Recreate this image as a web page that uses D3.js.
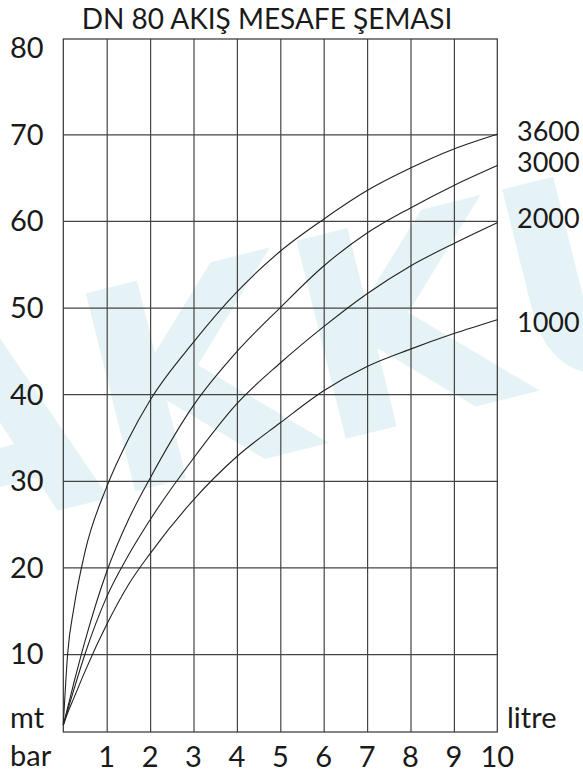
<!DOCTYPE html>
<html lang="tr">
<head>
    <meta charset="UTF-8">
    <title>DN 80 Akış Mesafe Şeması</title>
    <script src="https://cdnjs.cloudflare.com/ajax/libs/d3/7.8.5/d3.min.js"></script>
    <style>
        body { margin: 0; background: #fff; }
        svg { display: block; font-family: Lato, "Open Sans", sans-serif; }
        .grid line { stroke: #444; stroke-width: 1.2px; }
        .grid path { display: none; }
        .curve { fill: none; stroke: #222; stroke-width: 1.1px; }
        .lbl { font-size: 29px; fill: #1a1a1a; }
        .slbl { font-size: 27px; fill: #1a1a1a; }
    </style>
</head>
<body>
<svg width="583" height="776"></svg>
<script>
    // flow (x axis), pressure/distance curves per capacity
    const flowX = [0, 0.1, 0.25, 0.5, 1, 1.5, 2, 3, 4, 5, 6, 7, 8, 9, 10];
    const c3600 = [1.8, 10, 15.5, 21.8, 29.3, 34.8, 39.3, 46, 51.8, 56.5, 60.2, 63.5, 66.1, 68.3, 70];
    const c3000 = [1.8, 3.8, 6.8, 11.5, 19.5, 25.5, 30.3, 38.7, 44.9, 50, 54.8, 58.6, 61.5, 64.1, 66.4];
    const c2000 = [1.8, 3.5, 6, 10, 16.6, 21.4, 25.5, 32.6, 38.9, 43.6, 47.8, 51.6, 54.8, 57.4, 59.8];
    const c1000 = [1.8, 3.2, 5, 8, 13.4, 18, 21.6, 27.8, 32.8, 36.7, 40.4, 43.2, 45.2, 47, 48.6];
    const seriesNames = ["3600", "3000", "2000", "1000"];
    const xTicks = [1, 2, 3, 4, 5, 6, 7, 8, 9, 10];
    const yTicks = [10, 20, 30, 40, 50, 60, 70, 80];

    const svg = d3.select("svg");
    const pLeft = 63.3, pRight = 497.3, pTop = 39, pBottom = 732;

    const x = d3.scaleLinear().domain([0, 10]).range([pLeft, pRight]);
    const y = d3.scaleLinear().domain([1, 81]).range([pBottom, pTop]);

    // watermark
    svg.append("text")
        .attr("transform", "translate(-100,550) rotate(-14)")
        .attr("font-family", "DejaVu Sans")
        .attr("font-weight", "bold")
        .attr("font-size", 280)
        .attr("fill", "#e6f3f6")
        .text("AKKU");

    // grid
    svg.append("g").attr("class", "grid")
        .attr("transform", `translate(0,${pBottom})`)
        .call(d3.axisBottom(x).tickValues(d3.range(1, 10)).tickSize(-(pBottom - pTop)).tickFormat(""));
    svg.append("g").attr("class", "grid")
        .attr("transform", `translate(${pLeft},0)`)
        .call(d3.axisLeft(y).tickValues(yTicks.slice(0, -1)).tickSize(-(pRight - pLeft)).tickFormat(""));
    svg.append("rect")
        .attr("x", pLeft).attr("y", pTop)
        .attr("width", pRight - pLeft).attr("height", pBottom - pTop)
        .attr("fill", "none").attr("stroke", "#333").attr("stroke-width", 1.2);

    // curves
    const line = d3.line().x((d, i) => x(flowX[i])).y(d => y(d)).curve(d3.curveMonotoneX);
    const all = [c3600, c3000, c2000, c1000];
    svg.selectAll(".curve").data(all).enter().append("path")
        .attr("class", "curve").attr("d", line);

    // labels
    svg.selectAll(".ylbl").data(yTicks).enter().append("text")
        .attr("class", "lbl").attr("x", 10).attr("y", d => y(d))
        .attr("dy", "0.36em").text(d => d);
    svg.selectAll(".xlbl").data(xTicks).enter().append("text")
        .attr("class", "lbl").attr("text-anchor", "middle")
        .attr("x", d => x(d)).attr("y", 767).text(d => d);
    svg.selectAll(".slbl").data(all).enter().append("text")
        .attr("class", "slbl").attr("x", 517)
        .attr("y", (d, i) => y(d[d.length - 1]) + [-3, -3, -4, 3][i])
        .attr("dy", "0.36em").text((d, i) => seriesNames[i]);

    svg.append("text").attr("class", "lbl").attr("x", 10).attr("y", 728).text("mt");
    svg.append("text").attr("class", "lbl").attr("x", 10).attr("y", 766).text("bar");
    svg.append("text").attr("class", "lbl").attr("x", 507).attr("y", 728).text("litre");

    svg.append("text")
        .attr("x", 267).attr("y", 29)
        .attr("text-anchor", "middle")
        .attr("font-size", 28).attr("fill", "#1a1a1a")
        .text("DN 80 AKIŞ MESAFE ŞEMASI");
</script>
</body>
</html>
